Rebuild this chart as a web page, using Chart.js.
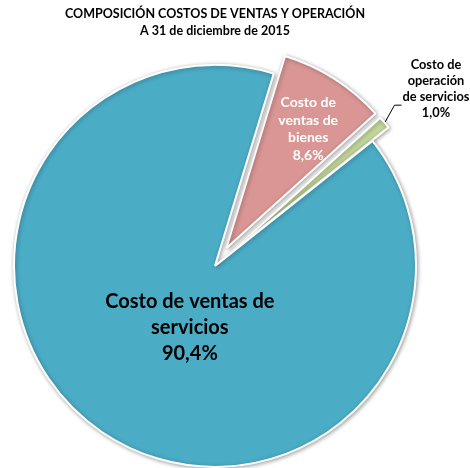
<!DOCTYPE html>
<html>
<head>
<meta charset="utf-8">
<script src="https://cdn.jsdelivr.net/npm/chart.js@4.4.1/dist/chart.umd.min.js"></script>
<style>
  html, body { margin: 0; padding: 0; background: #fff; }
  #wrap { width: 470px; height: 468px; position: relative; }
</style>
</head>
<body>
<div id="wrap"><canvas id="pie"></canvas></div>
<script>
// cost composition at year end, shares in percent
var categories = ['Costo de ventas de bienes', 'Costo de operación de servicios', 'Costo de ventas de servicios'];
var shares = [8.6, 1.0, 90.4];
var labelLines = [['Costo de', 'ventas de', 'bienes'], ['Costo de', 'operación', 'de servicios'], ['Costo de ventas de', 'servicios']];
var titleLines = ['COMPOSICIÓN COSTOS DE VENTAS Y OPERACIÓN', 'A 31 de diciembre de 2015'];

var colors = ['#d99694', '#c3d69b', '#4bacc6'];
var explode = [21, 21, 0];   // px each slice is pulled out from the centre
var FONT = 'Lato, "Open Sans", sans-serif';

// how each slice label is placed: inside at a fraction of the radius, or outside with a leader
var labelStyle = [
  { mode: 'inside', frac: 0.72, turn: 2, size: 14, lh: 17.5, color: '#fff' },
  { mode: 'outside', dist: 61, turn: 1.7, size: 12.8, lh: 16.1, color: '#000' },
  { mode: 'inside', frac: 0.33, turn: -12, size: 20, lh: 26, color: '#000' }
];

function fmt(v) {
  return v.toFixed(1).replace('.', ',') + '%';
}

// draws the arcs ourselves so exploded slices keep their radius and are
// only shifted along their bisector; adds a soft drop shadow
var explodedArcs = {
  id: 'explodedArcs',
  beforeDatasetDraw: function(chart, args) {
    var ctx = chart.ctx;
    ctx.save();
    ctx.shadowColor = 'rgba(0,0,0,0.35)';
    ctx.shadowBlur = 4;
    ctx.shadowOffsetX = 1;
    ctx.shadowOffsetY = 1;
    args.meta.data.forEach(function(arc, i) {
      var mid = (arc.startAngle + arc.endAngle) / 2;
      ctx.save();
      ctx.translate(Math.cos(mid) * explode[i], Math.sin(mid) * explode[i]);
      arc.draw(ctx);
      ctx.restore();
    });
    ctx.restore();
    return false;
  }
};

var sliceLabels = {
  id: 'sliceLabels',
  afterDraw: function(chart) {
    var ctx = chart.ctx;
    var meta = chart.getDatasetMeta(0);
    meta.data.forEach(function(arc, i) {
      var p = arc.getProps(['x', 'y', 'startAngle', 'endAngle', 'outerRadius'], true);
      var mid = (p.startAngle + p.endAngle) / 2;
      var cx = p.x + Math.cos(mid) * explode[i];
      var cy = p.y + Math.sin(mid) * explode[i];
      var st = labelStyle[i];
      var lines = labelLines[i].concat([fmt(shares[i])]);
      var a = mid + st.turn * Math.PI / 180;
      var ax, ay;

      ctx.save();
      ctx.font = 'bold ' + st.size + 'px ' + FONT;
      ctx.fillStyle = st.color;
      ctx.textAlign = 'center';
      ctx.textBaseline = 'middle';

      if (st.mode === 'inside') {
        ax = cx + Math.cos(a) * p.outerRadius * st.frac;
        ay = cy + Math.sin(a) * p.outerRadius * st.frac;
      } else {
        ax = cx + Math.cos(a) * (p.outerRadius + st.dist);
        ay = cy + Math.sin(a) * (p.outerRadius + st.dist);
        var widest = 0;
        lines.forEach(function(t) { widest = Math.max(widest, ctx.measureText(t).width); });
        var left = ax - widest / 2;
        var hy = ay + st.lh;
        ctx.strokeStyle = '#000';
        ctx.lineWidth = 1;
        ctx.beginPath();
        ctx.moveTo(cx + Math.cos(mid) * (p.outerRadius + 1), cy + Math.sin(mid) * (p.outerRadius + 1));
        ctx.lineTo(left - 8, hy);
        ctx.lineTo(left - 1, hy);
        ctx.stroke();
      }

      var top = ay - (lines.length - 1) * st.lh / 2;
      lines.forEach(function(t, k) {
        ctx.fillText(t, ax, top + k * st.lh);
      });
      ctx.restore();
    });
  }
};

new Chart(document.getElementById('pie'), {
  type: 'pie',
  data: {
    labels: categories,
    datasets: [{
      data: shares,
      backgroundColor: colors,
      borderColor: '#ffffff',
      borderWidth: 2
    }]
  },
  options: {
    responsive: true,
    maintainAspectRatio: false,
    animation: false,
    events: [],
    rotation: 17,
    radius: 201,
    layout: { padding: { left: 0, right: 40, top: 0, bottom: 0 } },
    plugins: {
      legend: { display: false },
      tooltip: { enabled: false },
      title: {
        display: true,
        text: titleLines,
        color: '#000',
        font: { family: FONT, size: 12.5, weight: 'bold', lineHeight: 1.35 },
        padding: { top: 6, bottom: 24 }
      }
    }
  },
  plugins: [explodedArcs, sliceLabels]
});
</script>
</body>
</html>
